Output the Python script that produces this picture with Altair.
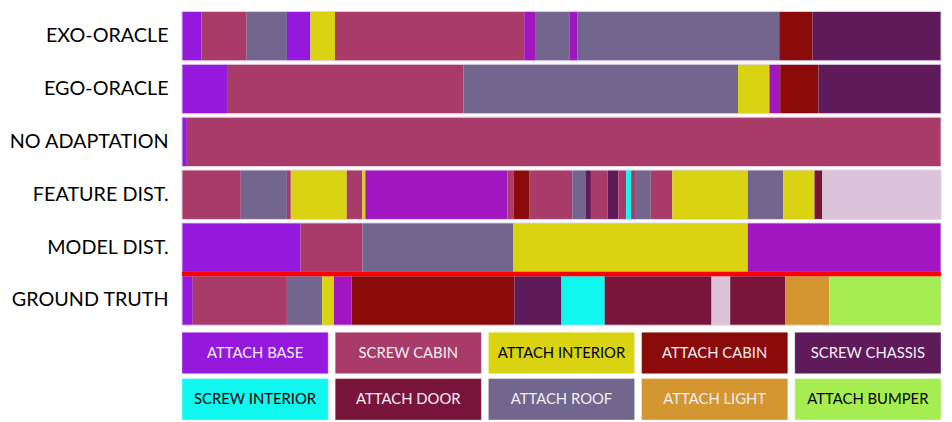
import altair as alt
import pandas as pd

ROWS = ["EXO-ORACLE", "EGO-ORACLE", "NO ADAPTATION", "FEATURE DIST.", "MODEL DIST.", "GROUND TRUTH"]
TOTAL = 774  # sequence length (frames)

CLASSES = ["ATTACH BASE", "SCREW CABIN", "ATTACH INTERIOR", "ATTACH CABIN", "SCREW CHASSIS",
           "SCREW INTERIOR", "ATTACH DOOR", "ATTACH ROOF", "ATTACH LIGHT", "ATTACH BUMPER",
           "UNLISTED A", "UNLISTED B"]
COLORS = ["#9518dd", "#a83b68", "#d9d312", "#8b0a0a", "#5f1a59",
          "#10f7f0", "#79153a", "#72668f", "#d39631", "#a6ed52",
          "#a216bf", "#dbc3da"]

# segment end frames and classes per row
exo_ends = [20, 66, 107, 131, 156, 349, 360, 395, 403, 609, 643, 774]
exo_cls = ["ATTACH BASE", "SCREW CABIN", "ATTACH ROOF", "ATTACH BASE", "ATTACH INTERIOR", "SCREW CABIN",
           "UNLISTED A", "ATTACH ROOF", "UNLISTED A", "ATTACH ROOF", "ATTACH CABIN", "SCREW CHASSIS"]

ego_ends = [46, 287, 567, 599, 610, 649, 774]
ego_cls = ["ATTACH BASE", "SCREW CABIN", "ATTACH ROOF", "ATTACH INTERIOR", "UNLISTED A",
           "ATTACH CABIN", "SCREW CHASSIS"]

noad_ends = [5, 774]
noad_cls = ["ATTACH BASE", "SCREW CABIN"]

feat_ends = [60, 107, 111, 168, 184, 187, 332, 338, 354, 398, 412, 417, 434, 445, 453, 458,
             462, 478, 500, 577, 613, 645, 653, 774]
feat_cls = ["SCREW CABIN", "ATTACH ROOF", "SCREW CABIN", "ATTACH INTERIOR", "SCREW CABIN",
            "ATTACH INTERIOR", "UNLISTED A", "SCREW CABIN", "ATTACH CABIN", "SCREW CABIN",
            "ATTACH ROOF", "SCREW CHASSIS", "SCREW CABIN", "SCREW CHASSIS", "SCREW CABIN",
            "SCREW INTERIOR", "SCREW CABIN", "ATTACH ROOF", "SCREW CABIN", "ATTACH INTERIOR",
            "ATTACH ROOF", "ATTACH INTERIOR", "ATTACH DOOR", "UNLISTED B"]

model_ends = [121, 184, 338, 577, 774]
model_cls = ["ATTACH BASE", "SCREW CABIN", "ATTACH ROOF", "ATTACH INTERIOR", "UNLISTED A"]

gt_ends = [11, 107, 143, 155, 173, 339, 387, 431, 540, 559, 615, 660, 774]
gt_cls = ["ATTACH BASE", "SCREW CABIN", "ATTACH ROOF", "ATTACH INTERIOR", "UNLISTED A",
          "ATTACH CABIN", "SCREW CHASSIS", "SCREW INTERIOR", "ATTACH DOOR", "UNLISTED B",
          "ATTACH DOOR", "ATTACH LIGHT", "ATTACH BUMPER"]

LEGEND_ROW1 = ["ATTACH BASE", "SCREW CABIN", "ATTACH INTERIOR", "ATTACH CABIN", "SCREW CHASSIS"]
LEGEND_ROW2 = ["SCREW INTERIOR", "ATTACH DOOR", "ATTACH ROOF", "ATTACH LIGHT", "ATTACH BUMPER"]
DARK_TEXT = ["ATTACH INTERIOR", "SCREW INTERIOR", "ATTACH BUMPER"]

# ---- build tables
records = []
for row, ends, cls in zip(ROWS,
                          [exo_ends, ego_ends, noad_ends, feat_ends, model_ends, gt_ends],
                          [exo_cls, ego_cls, noad_cls, feat_cls, model_cls, gt_cls]):
    start = 0
    for e, c in zip(ends, cls):
        records.append({"row": row, "start": start, "end": e, "cls": c})
        start = e
seg_df = pd.DataFrame(records)
rows_df = pd.DataFrame({"row": ROWS, "start": [0] * len(ROWS), "end": [TOTAL] * len(ROWS)})
red_df = pd.DataFrame({"row": ["GROUND TRUTH"], "start": [0], "end": [TOTAL]})

leg_records = []
for r, names in enumerate([LEGEND_ROW1, LEGEND_ROW2]):
    for c, n in enumerate(names):
        leg_records.append({"name": n, "col": c, "lrow": r,
                            "tcolor": "#000000" if n in DARK_TEXT else "#f4eef4"})
leg_df = pd.DataFrame(leg_records)

color_scale = alt.Scale(domain=CLASSES, range=COLORS)

W = 768
y_scale = alt.Scale(domain=ROWS, paddingInner=3.5 / 53.5, paddingOuter=0)
x_scale = alt.Scale(domain=[0, TOTAL], nice=False, zero=False)

segs = alt.Chart(seg_df).mark_rect().encode(
    x=alt.X("start:Q", scale=x_scale, axis=None),
    x2="end:Q",
    y=alt.Y("row:N", sort=ROWS, scale=y_scale,
            axis=alt.Axis(title=None, domain=False, ticks=False, labelFontSize=20,
                          labelFont="Lato", labelColor="#000000", labelPadding=14,
                          minExtent=167, maxExtent=167, labelLimit=0)),
    color=alt.Color("cls:N", scale=color_scale, legend=None),
)

outline = alt.Chart(rows_df).mark_rect(filled=False, stroke="#e2d6ee", strokeWidth=1).encode(
    x=alt.X("start:Q", scale=x_scale, axis=None),
    x2="end:Q",
    y=alt.Y("row:N", sort=ROWS, scale=y_scale),
)

red = alt.Chart(red_df).mark_rule(color="#ff0000", strokeWidth=4.5, yOffset=-1.75).encode(
    x=alt.X("start:Q", scale=x_scale, axis=None),
    x2="end:Q",
    y=alt.Y("row:N", sort=ROWS, scale=y_scale, bandPosition=0),
)

bars = alt.layer(segs, outline, red).properties(width=W, height=317.5)

lx = alt.X("col:O", scale=alt.Scale(paddingInner=35 / 775, paddingOuter=0), axis=None)
ly = alt.Y("lrow:O", scale=alt.Scale(paddingInner=10 / 94, paddingOuter=0),
           axis=alt.Axis(title=None, labels=False, ticks=False, domain=False,
                         minExtent=167, maxExtent=167))
boxes = alt.Chart(leg_df).mark_rect(stroke="#ffffff", strokeOpacity=0.4, strokeWidth=1).encode(
    x=lx, y=ly, color=alt.Color("name:N", scale=color_scale, legend=None))
texts = alt.Chart(leg_df).mark_text(fontSize=15, font="Lato").encode(
    x=lx, y=ly, text="name:N", color=alt.Color("tcolor:N", scale=None))
legend = alt.layer(boxes, texts).properties(width=W, height=89)

chart = alt.vconcat(bars, legend, spacing=5.5).properties(padding=0).configure_view(stroke=None)

chart.save("out.html", embed_options={"renderer": "svg", "actions": False})
